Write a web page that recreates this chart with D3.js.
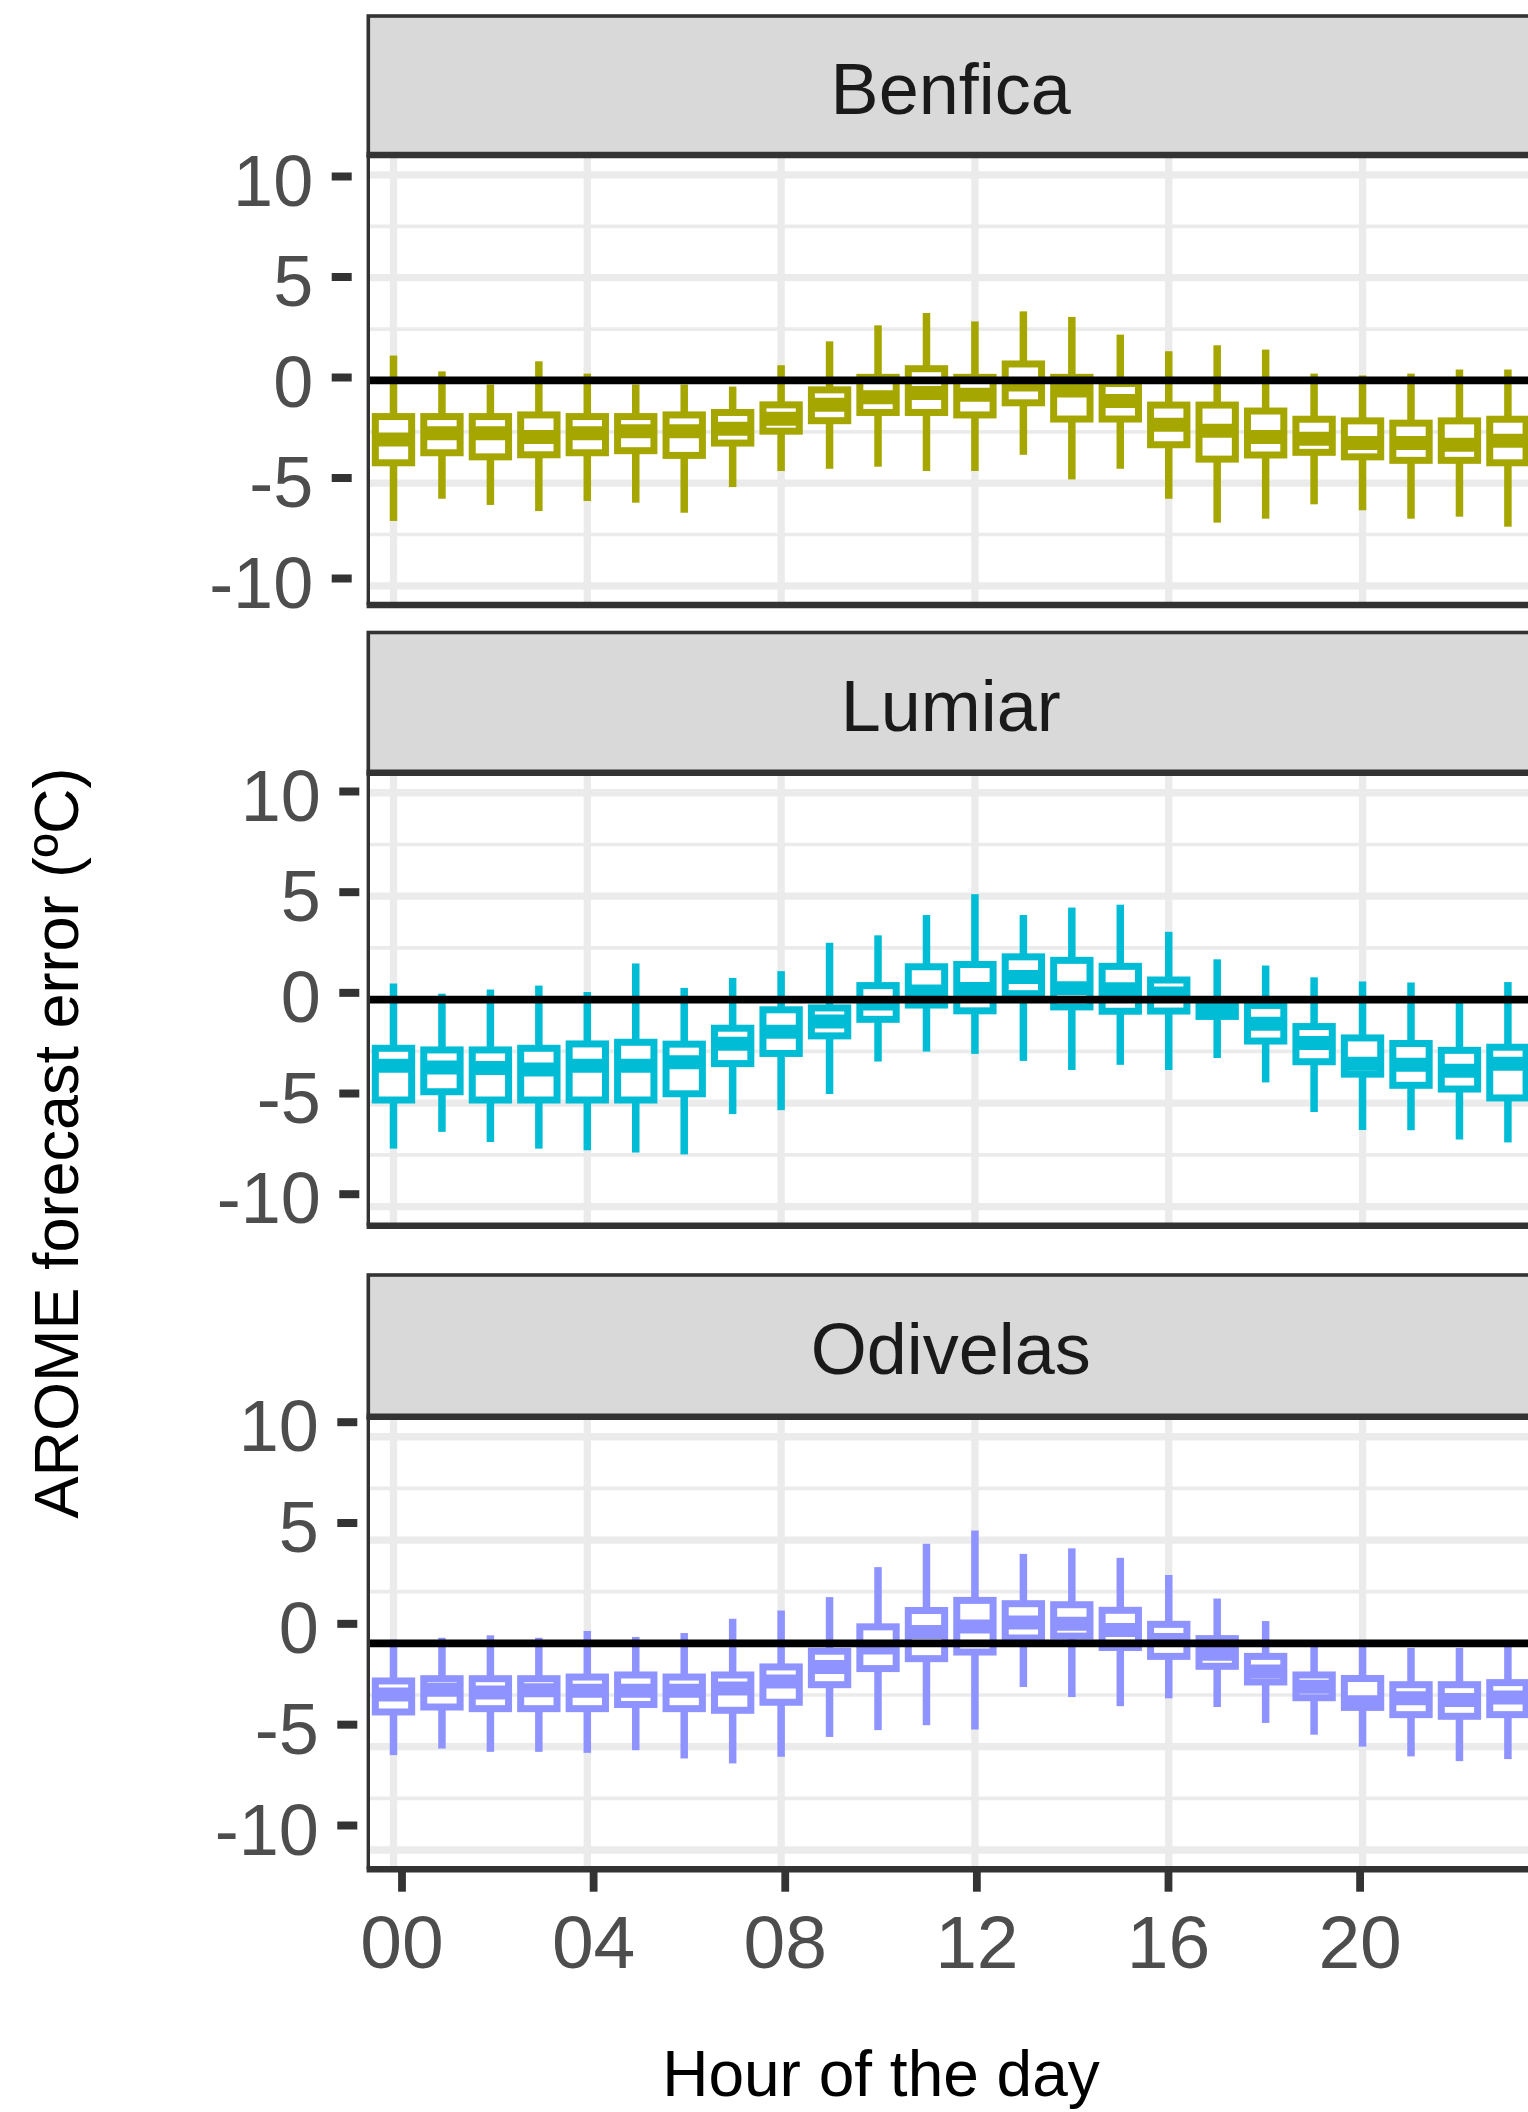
<!DOCTYPE html>
<html>
<head>
<meta charset="utf-8">
<script src="https://cdn.jsdelivr.net/npm/d3@7"></script>
<style>
  body { margin: 0; background: #fff; }
  svg { display: block; font-family: "Liberation Sans", Arial, Helvetica, sans-serif; }
</style>
</head>
<body>
<div id="chart"></div>
<script>
// AROME forecast error by hour of day, boxplots per station (facets)

const HOURS = [0, 1, 2, 3, 4, 5, 6, 7, 8, 9, 10, 11, 12, 13, 14, 15, 16, 17, 18, 19, 20, 21, 22, 23];
const HOUR_TICKS = [0, 4, 8, 12, 16, 20];
const Y_TICKS = [-10, -5, 0, 5, 10];
const Y_MINOR = [-7.5, -2.5, 2.5, 7.5];
const STATIONS = ['Benfica', 'Lumiar', 'Odivelas'];
const STATION_COLORS = ['#A6A600', '#00BDD5', '#8F93FF'];

// Benfica
const benficaUpper  = [1.21, 0.44, -0.2, 0.93, 0.33, -0.2, -0.2, -0.3, 0.74, 1.9, 2.68, 3.28, 2.87, 3.36, 3.09, 2.23, 1.42, 1.71, 1.5, 0.33, 0.24, 0.33, 0.53, 0.53];
const benficaQ3     = [-1.76, -1.76, -1.76, -1.68, -1.76, -1.76, -1.68, -1.56, -1.19, -0.46, 0.15, 0.57, 0.15, 0.8, 0.15, -0.15, -1.2, -1.2, -1.49, -1.89, -1.97, -2.08, -1.97, -1.89];
const benficaMedian = [-2.87, -2.57, -2.57, -2.75, -2.57, -2.47, -2.47, -2.35, -1.87, -1.19, -0.82, -0.61, -0.7, -0.2, -0.49, -1.0, -2.16, -2.45, -2.75, -2.84, -3.04, -3.05, -3.13, -2.94];
const benficaQ1     = [-4.01, -3.52, -3.72, -3.62, -3.52, -3.42, -3.65, -3.05, -2.47, -1.96, -1.56, -1.56, -1.68, -1.09, -1.88, -1.88, -3.13, -3.83, -3.63, -3.5, -3.72, -3.89, -3.89, -4.01];
const benficaLower  = [-6.84, -5.76, -6.06, -6.36, -5.87, -5.95, -6.44, -5.19, -4.41, -4.3, -4.2, -4.41, -4.41, -3.62, -4.82, -4.3, -5.76, -6.92, -6.73, -6.03, -6.32, -6.73, -6.63, -7.12];

// Lumiar
const lumiarUpper  = [0.78, 0.29, 0.49, 0.68, 0.37, 1.75, 0.57, 1.05, 1.38, 2.75, 3.11, 4.09, 5.1, 4.09, 4.45, 4.59, 3.28, 1.95, 1.65, 1.08, 0.88, 0.83, -0.15, 0.85];
const lumiarQ3     = [-2.35, -2.43, -2.43, -2.35, -2.14, -2.06, -2.15, -1.38, -0.49, -0.4, 0.68, 1.59, 1.7, 2.07, 1.9, 1.61, 0.95, -0.02, -0.28, -1.3, -1.85, -2.12, -2.45, -2.3];
const lumiarMedian = [-3.2, -3.28, -3.3, -3.37, -3.2, -3.2, -3.02, -2.13, -1.55, -1.05, -0.18, 0.4, 0.52, 1.1, 0.55, 0.5, 0.3, -0.5, -1.17, -2.1, -3.1, -3.15, -3.44, -3.1];
const lumiarQ1     = [-4.85, -4.45, -4.85, -4.85, -4.85, -4.85, -4.55, -3.09, -2.6, -1.75, -0.95, -0.26, -0.54, 0.29, -0.35, -0.56, -0.55, -0.81, -2.0, -3.0, -3.6, -4.14, -4.32, -4.75];
const lumiarLower  = [-7.2, -6.39, -6.88, -7.2, -7.28, -7.39, -7.48, -5.53, -5.34, -4.56, -2.99, -2.51, -2.62, -2.96, -3.4, -3.15, -3.4, -2.82, -4.0, -5.43, -6.3, -6.31, -6.76, -6.9];

// Odivelas
const odivelasUpper  = [0.18, 0.27, 0.39, 0.27, 0.6, 0.31, 0.5, 1.19, 1.59, 2.24, 3.69, 4.82, 5.46, 4.33, 4.6, 4.14, 3.31, 2.17, 1.08, 0.1, -0.15, -0.22, -0.22, -0.1];
const odivelasQ3     = [-1.82, -1.71, -1.71, -1.71, -1.63, -1.53, -1.63, -1.53, -1.14, -0.38, 0.8, 1.59, 2.08, 1.92, 1.87, 1.6, 0.92, 0.23, -0.63, -1.53, -1.7, -2.0, -2.0, -1.9];
const odivelasMedian = [-2.47, -2.24, -2.38, -2.27, -2.29, -2.29, -2.29, -2.19, -1.84, -1.14, -0.2, 0.55, 0.82, 1.01, 0.95, 0.65, 0.16, -0.5, -1.36, -2.1, -2.85, -2.66, -2.74, -2.62];
const odivelasQ1     = [-3.32, -3.08, -3.16, -3.16, -3.16, -2.96, -3.16, -3.24, -2.85, -2.0, -1.22, -0.74, -0.42, 0.26, 0.35, -0.2, -0.63, -1.11, -1.87, -2.63, -3.1, -3.45, -3.53, -3.45];
const odivelasLower  = [-5.41, -5.09, -5.25, -5.25, -5.3, -5.17, -5.57, -5.81, -5.49, -4.53, -4.2, -3.96, -4.17, -2.11, -2.6, -3.04, -2.66, -3.08, -3.85, -4.42, -5.0, -5.47, -5.7, -5.6];

const SERIES = [
    { upper: benficaUpper, q3: benficaQ3, median: benficaMedian, q1: benficaQ1, lower: benficaLower },
    { upper: lumiarUpper, q3: lumiarQ3, median: lumiarMedian, q1: lumiarQ1, lower: lumiarLower },
    { upper: odivelasUpper, q3: odivelasQ3, median: odivelasMedian, q1: odivelasQ1, lower: odivelasLower }
];

// layout of the three facets (pixels)
const W = 1528, H = 2112;
const PANEL_LEFT = 368.3, PANEL_RIGHT = 1533.1;
const PANELS = [
    { stripTop: 15, plotTop: 155, plotBottom: 605, tickTop: 176, tickBottom: 578, tickRight: 351.7 },
    { stripTop: 631.5, plotTop: 772.7, plotBottom: 1225.8, tickTop: 791, tickBottom: 1193.7, tickRight: 359.3 },
    { stripTop: 1274, plotTop: 1416.7, plotBottom: 1869.2, tickTop: 1421.7, tickBottom: 1825, tickRight: 357.3 }
];
const Y_DOMAIN = [-10.93, 10.97];

const GRID_COL = '#EBEBEB';
const BORDER_COL = '#333333';

const svg = d3.select('#chart')
    .append('svg')
    .attr('width', W)
    .attr('height', H);

svg.append('rect')
    .attr('width', W)
    .attr('height', H)
    .attr('fill', '#fff');

const x = d3.scalePoint()
    .domain(HOURS)
    .range([PANEL_LEFT, PANEL_RIGHT])
    .padding(0.52);
const boxW = x.step() * 0.75;

PANELS.forEach((p, i) => {
    const color = STATION_COLORS[i];
    const s = SERIES[i];
    const rows = HOURS.map((h, k) => ({
        hour: h,
        upper: s.upper[k], q3: s.q3[k], median: s.median[k], q1: s.q1[k], lower: s.lower[k]
    }));

    const y = d3.scaleLinear().domain(Y_DOMAIN).range([p.plotBottom, p.plotTop]);
    const g = svg.append('g').attr('class', 'panel');

    // minor then major grid
    g.selectAll('.minor-y')
        .data(Y_MINOR)
        .join('line')
        .attr('class', 'minor-y')
        .attr('x1', PANEL_LEFT).attr('x2', PANEL_RIGHT)
        .attr('y1', d => y(d)).attr('y2', d => y(d))
        .attr('stroke', GRID_COL)
        .attr('stroke-width', 3.7);

    g.selectAll('.major-y')
        .data(Y_TICKS)
        .join('line')
        .attr('class', 'major-y')
        .attr('x1', PANEL_LEFT).attr('x2', PANEL_RIGHT)
        .attr('y1', d => y(d)).attr('y2', d => y(d))
        .attr('stroke', GRID_COL)
        .attr('stroke-width', 7.3);

    g.selectAll('.major-x')
        .data(HOUR_TICKS)
        .join('line')
        .attr('class', 'major-x')
        .attr('x1', d => x(d)).attr('x2', d => x(d))
        .attr('y1', p.plotTop).attr('y2', p.plotBottom)
        .attr('stroke', GRID_COL)
        .attr('stroke-width', 7.3);

    // boxplots
    const box = g.selectAll('.box')
        .data(rows)
        .join('g')
        .attr('class', 'box');

    box.append('line')
        .attr('x1', d => x(d.hour)).attr('x2', d => x(d.hour))
        .attr('y1', d => y(d.upper)).attr('y2', d => y(d.q3))
        .attr('stroke', color)
        .attr('stroke-width', 7.5);

    box.append('line')
        .attr('x1', d => x(d.hour)).attr('x2', d => x(d.hour))
        .attr('y1', d => y(d.q1)).attr('y2', d => y(d.lower))
        .attr('stroke', color)
        .attr('stroke-width', 7.5);

    box.append('rect')
        .attr('x', d => x(d.hour) - boxW / 2)
        .attr('y', d => y(d.q3))
        .attr('width', boxW)
        .attr('height', d => y(d.q1) - y(d.q3))
        .attr('fill', '#fff')
        .attr('stroke', color)
        .attr('stroke-width', 7);

    box.append('line')
        .attr('x1', d => x(d.hour) - boxW / 2).attr('x2', d => x(d.hour) + boxW / 2)
        .attr('y1', d => y(d.median)).attr('y2', d => y(d.median))
        .attr('stroke', color)
        .attr('stroke-width', 14);

    // zero reference line
    g.append('line')
        .attr('x1', PANEL_LEFT).attr('x2', PANEL_RIGHT)
        .attr('y1', y(0)).attr('y2', y(0))
        .attr('stroke', '#000')
        .attr('stroke-width', 7.7);

    // strip
    g.append('rect')
        .attr('x', PANEL_LEFT)
        .attr('y', p.stripTop + 1)
        .attr('width', PANEL_RIGHT - PANEL_LEFT)
        .attr('height', p.plotTop - p.stripTop - 1)
        .attr('fill', '#D9D9D9')
        .attr('stroke', BORDER_COL)
        .attr('stroke-width', 3.6);

    g.append('text')
        .attr('x', (PANEL_LEFT + PANEL_RIGHT) / 2)
        .attr('y', (p.stripTop + p.plotTop) / 2 + 28.5)
        .attr('text-anchor', 'middle')
        .style('font-size', '72px')
        .style('fill', '#1A1A1A')
        .text(STATIONS[i]);

    // panel border
    g.append('line')
        .attr('x1', PANEL_LEFT - 1.7).attr('x2', PANEL_RIGHT)
        .attr('y1', p.plotTop).attr('y2', p.plotTop)
        .attr('stroke', BORDER_COL).attr('stroke-width', 6.6);
    g.append('line')
        .attr('x1', PANEL_LEFT - 1.7).attr('x2', PANEL_RIGHT)
        .attr('y1', p.plotBottom).attr('y2', p.plotBottom)
        .attr('stroke', BORDER_COL).attr('stroke-width', 6.6);
    g.append('line')
        .attr('x1', PANEL_LEFT).attr('x2', PANEL_LEFT)
        .attr('y1', p.plotTop).attr('y2', p.plotBottom)
        .attr('stroke', BORDER_COL).attr('stroke-width', 3.4);

    // y axis (labels sit slightly off the grid in the source)
    const yTick = d3.scaleLinear().domain([-10, 10]).range([p.tickBottom, p.tickTop]);
    const yAxis = g.append('g')
        .attr('class', 'y-axis')
        .attr('transform', `translate(${p.tickRight},0)`)
        .call(d3.axisLeft(yTick)
            .tickValues(Y_TICKS)
            .tickSize(20)
            .tickPadding(18.5)
            .tickFormat(d => String(d)));
    yAxis.select('.domain').remove();
    yAxis.selectAll('.tick line')
        .attr('stroke', BORDER_COL)
        .attr('stroke-width', 8);
    yAxis.selectAll('.tick text')
        .attr('dy', '0.403em')
        .style('font-size', '72px')
        .style('fill', '#4D4D4D')
        .style('font-family', '"Liberation Sans", Arial, sans-serif');
});

// x axis under the last facet
const xTick = d3.scaleLinear().domain([0, 20]).range([401.5, 1359.6]);
const xAxis = svg.append('g')
    .attr('class', 'x-axis')
    .attr('transform', 'translate(0,1871.7)')
    .call(d3.axisBottom(xTick)
        .tickValues(HOUR_TICKS)
        .tickSize(20)
        .tickPadding(23)
        .tickFormat(d3.format('02d')));
xAxis.select('.domain').remove();
xAxis.selectAll('.tick line')
    .attr('stroke', BORDER_COL)
    .attr('stroke-width', 7.8);
xAxis.selectAll('.tick text')
    .style('font-size', '75px')
    .style('fill', '#4D4D4D')
    .style('font-family', '"Liberation Sans", Arial, sans-serif');

// axis titles
svg.append('text')
    .attr('transform', 'translate(78,1143) rotate(-90)')
    .attr('text-anchor', 'middle')
    .style('font-size', '63px')
    .style('fill', '#000')
    .text('AROME forecast error (ºC)');

svg.append('text')
    .attr('x', 881)
    .attr('y', 2096)
    .attr('text-anchor', 'middle')
    .style('font-size', '64px')
    .style('fill', '#000')
    .text('Hour of the day');
</script>
</body>
</html>
